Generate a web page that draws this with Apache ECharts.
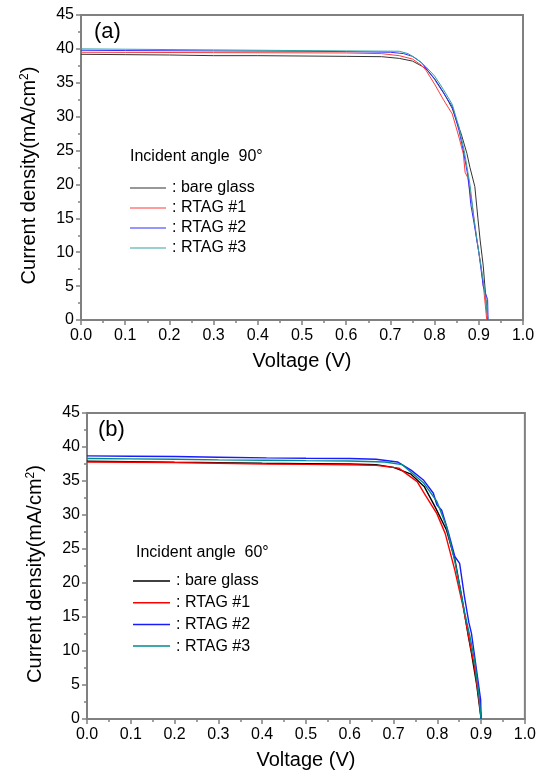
<!DOCTYPE html>
<html>
<head>
<meta charset="utf-8">
<script src="https://cdn.jsdelivr.net/npm/echarts@6/dist/echarts.min.js"></script>
<style>
  html, body { margin: 0; padding: 0; background: #fff; }
  #chart { width: 539px; height: 780px; }
</style>
</head>
<body>
<div id="chart"></div>
<script>
// J-V data, [voltage (V), current density (mA/cm2)]
// panel (a): incident angle 90 deg
const aBare = [[0, 39.2], [0.1, 39.15], [0.2, 39.1], [0.3, 39.0], [0.4, 39.0], [0.5, 38.95], [0.6, 38.9], [0.68, 38.85],
  [0.72, 38.6], [0.75, 38.2], [0.77, 37.5], [0.78, 37.1], [0.8, 35.6], [0.82, 33.6], [0.84, 31.2], [0.85, 29.3],
  [0.86, 27.5], [0.873, 24.6], [0.88, 22.5], [0.891, 19.7], [0.898, 15], [0.903, 11.8], [0.91, 8], [0.915, 4], [0.92, 0]]
const aRtag1 = [[0, 39.5], [0.1, 39.48], [0.3, 39.45], [0.5, 39.42], [0.6, 39.4], [0.68, 39.3], [0.72, 39.0],
  [0.75, 38.5], [0.77, 37.6], [0.78, 36.9], [0.8, 34.8], [0.82, 32.5], [0.84, 30.4], [0.855, 27], [0.865, 24.5],
  [0.869, 21.8], [0.875, 21], [0.885, 17], [0.895, 12], [0.905, 8], [0.912, 4], [0.918, 0]]
const aRtag2 = [[0, 39.8], [0.1, 39.75], [0.3, 39.7], [0.5, 39.65], [0.6, 39.6], [0.7, 39.5], [0.73, 39.3],
  [0.75, 38.9], [0.77, 38.0], [0.78, 37.2], [0.8, 35.5], [0.82, 33.5], [0.84, 31.5], [0.855, 28], [0.865, 25],
  [0.876, 21], [0.882, 17], [0.89, 14], [0.9, 10], [0.91, 5], [0.92, 3], [0.921, 0]]
const aRtag3 = [[0, 40.0], [0.1, 39.95], [0.3, 39.85], [0.5, 39.75], [0.6, 39.7], [0.72, 39.65], [0.74, 39.3],
  [0.76, 38.5], [0.78, 37.4], [0.8, 36.0], [0.82, 34.0], [0.84, 31.8], [0.855, 28.5], [0.867, 25], [0.88, 20],
  [0.889, 15], [0.9, 10], [0.912, 5], [0.921, 0]]
// panel (b): incident angle 60 deg
const bBare = [[0, 37.9], [0.1, 37.85], [0.2, 37.75], [0.3, 37.7], [0.4, 37.6], [0.5, 37.55], [0.6, 37.5], [0.66, 37.4],
  [0.7, 37.0], [0.74, 36.0], [0.77, 34.2], [0.795, 31.2], [0.821, 27.8], [0.84, 23.5], [0.857, 17.5], [0.87, 12.5],
  [0.878, 9.7], [0.89, 5], [0.9, 0]]
const bRtag1 = [[0, 37.8], [0.1, 37.75], [0.2, 37.7], [0.3, 37.6], [0.41, 37.5], [0.5, 37.45], [0.6, 37.4], [0.66, 37.3],
  [0.712, 36.9], [0.754, 34.9], [0.773, 32.9], [0.799, 30.2], [0.818, 27.3], [0.84, 21.9], [0.859, 16.5],
  [0.872, 12], [0.885, 7.7], [0.895, 3], [0.9, 0.4]]
const bRtag2 = [[0, 38.7], [0.1, 38.65], [0.2, 38.6], [0.3, 38.5], [0.41, 38.4], [0.5, 38.35], [0.6, 38.3], [0.66, 38.2],
  [0.709, 37.8], [0.74, 36.6], [0.769, 35.1], [0.791, 33.2], [0.799, 31.5], [0.81, 30.7], [0.825, 27.5],
  [0.84, 23.9], [0.851, 22.9], [0.862, 18], [0.872, 14.2], [0.878, 12.6], [0.89, 7], [0.899, 2.8], [0.9, 0]]
const bRtag3 = [[0, 38.3], [0.1, 38.25], [0.2, 38.2], [0.3, 38.1], [0.41, 38.05], [0.5, 38.0], [0.6, 37.95], [0.68, 37.8],
  [0.72, 37.4], [0.769, 34.7], [0.799, 32.0], [0.821, 28.3], [0.84, 23.2], [0.863, 15.5], [0.875, 12], [0.885, 8.7],
  [0.895, 3.5], [0.9, 0]]

const names = ['bare glass', 'RTAG #1', 'RTAG #2', 'RTAG #3']
const colorsA = ['#333333', '#ff3c3c', '#2e2eff', '#33a0a0']
const colorsB = ['#000000', '#ff0000', '#1a1aff', '#008b8b']

const FONT = '"Liberation Sans", Arial, sans-serif'
const AXIS_GREY = '#808080'

function xAxisFor(gridIndex) {
    return {
        type: 'value',
        gridIndex: gridIndex,
        min: 0,
        max: 1,
        interval: 0.1,
        name: 'Voltage (V)',
        nameLocation: 'middle',
        nameGap: 31,
        nameTextStyle: { fontFamily: FONT, fontSize: 20, color: '#000' },
        axisLine: { lineStyle: { color: AXIS_GREY, width: 2 } },
        axisTick: { inside: false, length: 5, lineStyle: { color: AXIS_GREY, width: 1.5 } },
        minorTick: { show: true, splitNumber: 2, length: 3, lineStyle: { color: AXIS_GREY, width: 1.5 } },
        axisLabel: {
            margin: 8,
            fontFamily: FONT,
            fontSize: 16,
            color: '#000',
            formatter: v => v.toFixed(1)
        },
        splitLine: { show: false }
    }
}

function yAxisFor(gridIndex) {
    return {
        type: 'value',
        gridIndex: gridIndex,
        min: 0,
        max: 45,
        interval: 5,
        name: 'Current density(mA/cm{sup|2})',
        nameLocation: 'middle',
        nameGap: 41,
        nameTextStyle: {
            fontFamily: FONT,
            fontSize: 20,
            color: '#000',
            padding: [0, 16, 0, 0],
            rich: {
                sup: { fontFamily: FONT, fontSize: 12, color: '#000', verticalAlign: 'top', padding: [0, 0, 9, 0] }
            }
        },
        axisLine: { lineStyle: { color: AXIS_GREY, width: 2 } },
        axisTick: { inside: false, length: 5, lineStyle: { color: AXIS_GREY, width: 1.5 } },
        minorTick: { show: true, splitNumber: 2, length: 3, lineStyle: { color: AXIS_GREY, width: 1.5 } },
        axisLabel: { margin: 7, fontFamily: FONT, fontSize: 16, color: '#000' },
        splitLine: { show: false }
    }
}

function lineSeries(panel, idx, data, color, width) {
    return {
        name: panel + '|' + names[idx],
        type: 'line',
        xAxisIndex: panel === 'a' ? 0 : 1,
        yAxisIndex: panel === 'a' ? 0 : 1,
        data: data,
        symbol: 'none',
        smooth: false,
        animation: false,
        lineStyle: { color: color, width: width },
        itemStyle: { color: color }
    }
}

function legendFor(panel, left, top, gap, itemWidth, lineH) {
    return {
        orient: 'vertical',
        left: left,
        top: top,
        padding: 0,
        icon: 'rect',
        itemWidth: itemWidth,
        itemHeight: lineH,
        itemGap: gap,
        selectedMode: false,
        data: names.map(n => panel + '|' + n),
        formatter: name => ': ' + name.split('|')[1],
        textStyle: { fontFamily: FONT, fontSize: 16, color: '#000', padding: [0, 0, 0, 1] }
    }
}

const chart = echarts.init(document.getElementById('chart'), null, { renderer: 'canvas' })
chart.setOption({
    backgroundColor: '#fff',
    animation: false,
    grid: [
        { left: 81, top: 15, right: 16, bottom: 460, show: true, borderColor: AXIS_GREY, borderWidth: 2 },
        { left: 87, top: 413, right: 8, bottom: 61, show: true, borderColor: AXIS_GREY, borderWidth: 2 }
    ],
    xAxis: [xAxisFor(0), xAxisFor(1)],
    yAxis: [yAxisFor(0), yAxisFor(1)],
    legend: [
        legendFor('a', 130, 180, 4, 36, 1.2),
        legendFor('b', 133, 573, 5.7, 37, 1.5)
    ],
    graphic: [
        { type: 'text', left: 94, top: 21, style: { text: '(a)', font: '22px ' + FONT, fill: '#000' } },
        { type: 'text', left: 98, top: 419, style: { text: '(b)', font: '22px ' + FONT, fill: '#000' } },
        { type: 'text', left: 130, top: 149, style: { text: 'Incident angle  90°', font: '16px ' + FONT, fill: '#000' } },
        { type: 'text', left: 136, top: 545, style: { text: 'Incident angle  60°', font: '16px ' + FONT, fill: '#000' } }
    ],
    series: [
        lineSeries('a', 0, aBare, colorsA[0], 1),
        lineSeries('a', 1, aRtag1, colorsA[1], 1),
        lineSeries('a', 2, aRtag2, colorsA[2], 1),
        lineSeries('a', 3, aRtag3, colorsA[3], 1),
        lineSeries('b', 0, bBare, colorsB[0], 1.4),
        lineSeries('b', 1, bRtag1, colorsB[1], 1.4),
        lineSeries('b', 2, bRtag2, colorsB[2], 1.4),
        lineSeries('b', 3, bRtag3, colorsB[3], 1.4)
    ]
})
</script>
</body>
</html>
